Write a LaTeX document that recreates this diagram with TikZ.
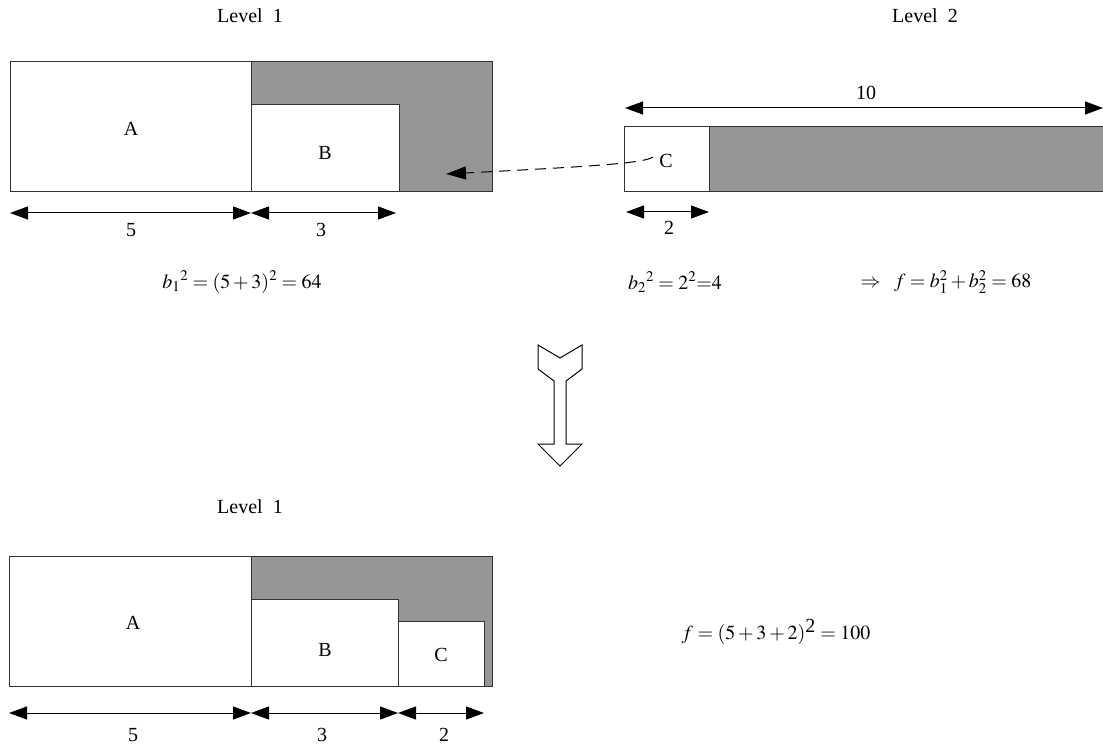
\documentclass[tikz,border=0pt]{standalone}
\usepackage{mathptmx}
\usepackage{fontspec}
\setmainfont{Liberation Serif}
\usetikzlibrary{arrows.meta}
\definecolor{shade}{HTML}{969696}
\definecolor{edge}{HTML}{333333}
\tikzset{
  box/.style={draw=edge, line width=1pt, fill=white},
  grayarea/.style={draw=edge, line width=1pt, fill=shade},
  dim/.style={line width=1pt, {Triangle[length=18pt,width=13pt]}-{Triangle[length=18pt,width=13pt]}},
  lbl/.style={inner sep=0pt, font=\fontsize{20}{24}\selectfont},
  movearrow/.style={line width=1pt, dash pattern=on 11pt off 7pt, -{Triangle[length=20pt,width=13pt]}},
  bigarrow/.style={draw=black, line width=1pt, fill=white, line join=miter}
}
\begin{document}
\begin{tikzpicture}[x=1pt,y=-1pt]
\useasboundingbox (0,0) rectangle (1103,746);
% ---------- Level 1 (top) ----------
\node[lbl] (lev1) at (250,16) {Level\ \ 1};
\draw[grayarea] (251,62) rectangle (492,192);
\draw[box] (10,62) rectangle (251,192);
\draw[box] (251,105) rectangle (399,192);
\node[lbl] (A1) at (131,129) {A};
\node[lbl] (B1) at (325,153) {B};
\coordinate (d1a) at (10,213);
\coordinate (d1b) at (251,213);
\coordinate (d1c) at (396,213);
\draw[dim] (d1a) -- (d1b);
\draw[dim] (d1b) -- (d1c);
\node[lbl] (n5a) at (131,230) {5};
\node[lbl] (n3a) at (321,230) {3};
\node[lbl] (f1) at (242,282) {$b_1{}^2 = (5+3)^2 = 64$};
% ---------- Level 2 (top) ----------
\node[lbl] (lev2) at (925,16) {Level\ \ 2};
\draw[grayarea] (709,127) rectangle (1106,192);
\draw[box] (624,127) rectangle (709,192);
\node[lbl] (C2) at (666,161) {C};
\coordinate (d10a) at (625,108);
\coordinate (d10b) at (1103,108);
\draw[dim] (d10a) -- (d10b);
\node[lbl] (n10) at (866,93) {10};
\coordinate (d2a) at (626,212);
\coordinate (d2b) at (709,212);
\draw[dim] (d2a) -- (d2b);
\node[lbl] (n2a) at (669,228) {2};
\coordinate (cs) at (653,157);
\coordinate (dt) at (446,174);
\draw[movearrow] (cs) .. controls (644,163) and (600,166) .. (dt);
\node[lbl] (f2) at (675,282) {$b_2{}^2 = 2^2{=}4$};
\node[lbl] (f3) at (946,282) {$\Rightarrow\;\; f = b_1^2 + b_2^2 = 68$};
% ---------- big down arrow ----------
\draw[bigarrow] (538,345) -- (560,358) -- (582,345) -- (582,369) -- (566,381)
  -- (566,444) -- (582,444) -- (560,466) -- (538,444) -- (554,444)
  -- (554,381) -- (538,369) -- cycle;
% ---------- Level 1 (bottom) ----------
\node[lbl] (lev1b) at (250,507) {Level\ \ 1};
\draw[grayarea] (251,556) rectangle (492,686);
\draw[box] (9,556) rectangle (251,686);
\draw[box] (251,599) rectangle (398,686);
\draw[box] (398,621) rectangle (484,686);
\node[lbl] (A3) at (133,623) {A};
\node[lbl] (B3) at (325,650) {B};
\node[lbl] (C3) at (441,655) {C};
\coordinate (e1) at (9,713);
\coordinate (e2) at (251,713);
\coordinate (e3) at (398,713);
\coordinate (e4) at (484,713);
\draw[dim] (e1) -- (e2);
\draw[dim] (e2) -- (e3);
\draw[dim] (e3) -- (e4);
\node[lbl] (n5b) at (133,735) {5};
\node[lbl] (n3b) at (322,735) {3};
\node[lbl] (n2b) at (444,735) {2};
\node[lbl] (f4) at (776,632) {$f = (5+3+2)^{\mbox{\fontsize{20}{20}\selectfont 2}} = 100$};
\end{tikzpicture}
\end{document}
